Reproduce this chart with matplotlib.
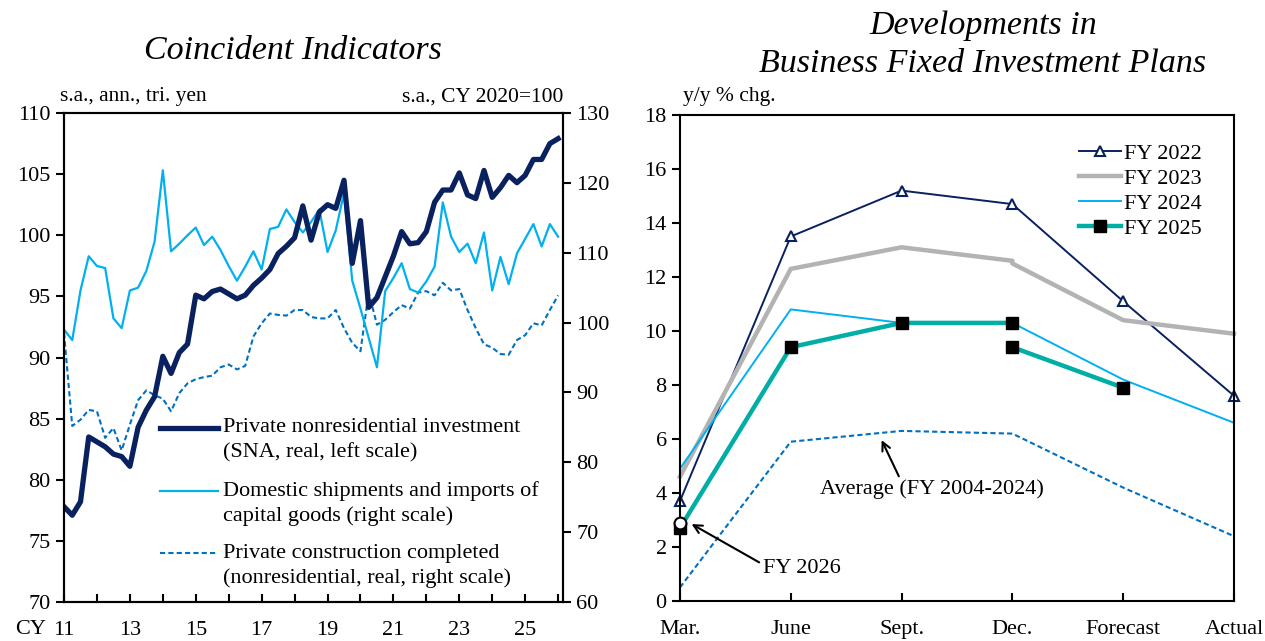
import matplotlib.pyplot as plt
from matplotlib.lines import Line2D

plt.rcParams['font.family'] = ['Liberation Serif', 'DejaVu Serif']

# --- Coincident indicators, quarterly, CY2011 Q1 onwards
nonres_inv = [77.8, 77.1, 78.2, 83.5, 83.1, 82.7, 82.1, 81.9, 81.1, 84.3,
              85.7, 86.8, 90.1, 88.7, 90.4, 91.1, 95.1, 94.8, 95.4, 95.6,
              95.2, 94.8, 95.1, 95.9, 96.5, 97.2, 98.5, 99.1, 99.8, 102.4,
              99.6, 101.9, 102.5, 102.2, 104.5, 97.7, 101.2, 94.1, 94.9, 96.6,
              98.3, 100.3, 99.3, 99.4, 100.3, 102.7, 103.7, 103.7, 105.1, 103.3,
              103.0, 105.3, 103.1, 103.9, 104.9, 104.3, 104.9, 106.2, 106.2, 107.5,
              107.9]
shipments = [99.0, 97.5, 104.6, 109.5, 108.1, 107.8, 100.6, 99.2, 104.6, 105.0,
             107.4, 111.6, 121.8, 110.2, 111.3, 112.5, 113.6, 111.1, 112.3, 110.4,
             108.1, 106.0, 108.0, 110.2, 107.6, 113.4, 113.7, 116.2, 114.4, 112.9,
             114.4, 116.2, 110.1, 113.2, 118.6, 106.0, 102.0, 97.8, 93.6, 104.5,
             106.4, 108.5, 104.8, 104.3, 105.9, 108.0, 117.2, 112.3, 110.1, 111.3,
             108.5, 112.9, 104.6, 109.4, 105.5, 109.9, 112.0, 114.1, 110.9, 114.1,
             112.3]
construction = [98.5, 85.2, 86.1, 87.5, 87.3, 83.5, 84.9, 81.7, 85.4, 88.9,
                90.3, 89.6, 89.1, 87.3, 89.9, 91.3, 91.9, 92.2, 92.4, 93.6,
                94.0, 93.3, 93.8, 98.0, 99.9, 101.3, 101.1, 101.0, 101.8, 101.8,
                100.8, 100.6, 100.6, 101.8, 99.2, 97.1, 95.9, 104.3, 99.7, 100.4,
                101.5, 102.5, 102.0, 104.3, 104.5, 103.9, 105.7, 104.6, 104.8, 101.8,
                99.2, 96.9, 96.4, 95.5, 95.4, 97.5, 98.2, 99.9, 99.6, 101.8,
                103.9]
year_labels = ['11', '13', '15', '17', '19', '21', '23', '25']

# --- Business fixed investment plans
survey_labels = ['Mar.', 'June', 'Sept.', 'Dec.', 'Forecast', 'Actual']
survey_pos = [0, 1, 2, 3, 3, 4, 5]   # Dec. twice (before / after sample revision)
fy2022 = [3.7, 13.5, 15.2, 14.7, 14.7, 11.1, 7.6]
fy2023 = [4.6, 12.3, 13.1, 12.6, 12.5, 10.4, 9.9]
fy2024 = [4.9, 10.8, 10.3, 10.3, 10.3, 8.2, 6.6]
fy2025 = [2.7, 9.4, 10.3, 10.3, 9.4, 7.9]
fy2026 = [2.9]
average = [0.5, 5.9, 6.3, 6.2, 6.2, 4.2, 2.4]

NAVY = '#0a2160'
LBLUE = '#00b0f0'
DBLUE = '#0070c0'
GRAY = '#b3b3b3'
TEAL = '#00aea6'
FS = 16

fig = plt.figure(figsize=(12.65, 6.41), dpi=100)

# ================= left panel
ax1 = fig.add_axes([0.0506, 0.0608, 0.3945, 0.7629])
ax1r = ax1.twinx()
q = list(range(len(nonres_inv)))
ax1r.plot(q, construction, color=DBLUE, lw=1.5, ls=(0, (2.5, 1.5)))
ax1r.plot(q, shipments, color=LBLUE, lw=1.6)
ax1.plot(q, nonres_inv, color=NAVY, lw=3.8)
ax1.set_zorder(ax1r.get_zorder() + 1)
ax1.patch.set_visible(False)

ax1.set_xlim(0, 60.6)
ax1.set_ylim(70, 110)
ax1r.set_ylim(60, 130)
ax1.set_yticks(range(70, 111, 5))
ax1r.set_yticks(range(60, 131, 10))
ticks = list(range(0, 61, 4))
ax1.set_xticks(ticks)
ax1.set_xticklabels([year_labels[i // 8] if i % 8 == 0 else '' for i in ticks])
ax1.tick_params(axis='x', direction='in', length=6, width=1.5, labelsize=FS, pad=14)
ax1.tick_params(axis='y', direction='out', length=6, width=1.5, labelsize=FS)
ax1r.tick_params(axis='y', direction='out', length=6, width=1.5, labelsize=FS)
for a in (ax1, ax1r):
    for s in a.spines.values():
        s.set_linewidth(1.5)

# legend drawn by hand so the line sits on the first text row
leg_rows = [
    (0.356, dict(color=NAVY, lw=3.8), ['Private nonresidential investment', '(SNA, real, left scale)']),
    (0.227, dict(color=LBLUE, lw=1.6), ['Domestic shipments and imports of', 'capital goods (right scale)']),
    (0.100, dict(color=DBLUE, lw=1.5, ls=(0, (2.5, 1.5))), ['Private construction completed', '(nonresidential, real, right scale)']),
]
for y, style, lines in leg_rows:
    ax1.add_line(Line2D([0.192, 0.309], [y, y], transform=ax1.transAxes, **style))
    for k, txt in enumerate(lines):
        ax1.text(0.319, y - k * 0.051, txt, transform=ax1.transAxes,
                 fontsize=FS, va='center', ha='left')

fig.text(293 / 1265, 1 - 51 / 641, 'Coincident Indicators', fontsize=24.5,
         style='italic', ha='center', va='center')
fig.text(60 / 1265, 1 - 97 / 641, 's.a., ann., tri. yen', fontsize=15.5, va='center')
fig.text(563 / 1265, 1 - 97 / 641, 's.a., CY 2020=100', fontsize=15.5, va='center', ha='right')
fig.text(31 / 1265, 1 - 629 / 641, 'CY', fontsize=FS, va='center', ha='center')

# ================= right panel
ax2 = fig.add_axes([0.5375, 0.0624, 0.4380, 0.7582])
ax2.plot(survey_pos, average, color=DBLUE, lw=1.5, ls=(0, (2.5, 1.5)), clip_on=False)
ax2.plot(survey_pos, fy2022, color=NAVY, lw=1.4, marker='^', markersize=7,
         markerfacecolor='white', markeredgecolor=NAVY, markeredgewidth=1.5,
         markevery=[0, 1, 2, 3, 5, 6], clip_on=False, label='FY 2022')
ax2.plot(survey_pos, fy2023, color=GRAY, lw=3.2, clip_on=False, label='FY 2023')
ax2.plot(survey_pos, fy2024, color=LBLUE, lw=1.4, clip_on=False, label='FY 2024')
ax2.plot(survey_pos[:4], fy2025[:4], color=TEAL, lw=3.2, marker='s', markersize=8,
         markerfacecolor='black', markeredgecolor='black', clip_on=False, label='FY 2025')
ax2.plot(survey_pos[4:6], fy2025[4:], color=TEAL, lw=3.2, marker='s', markersize=8,
         markerfacecolor='black', markeredgecolor='black', clip_on=False)
ax2.plot([0], fy2026, ls='none', marker='o', markersize=8.5, markerfacecolor='white',
         markeredgecolor='black', markeredgewidth=1.5, clip_on=False, zorder=5)

ax2.set_xlim(0, 5)
ax2.set_ylim(0, 18)
ax2.set_yticks(range(0, 19, 2))
ax2.set_xticks(range(6))
ax2.set_xticklabels(survey_labels)
ax2.tick_params(axis='x', direction='in', length=6, width=1.5, labelsize=FS, pad=14)
ax2.tick_params(axis='y', direction='out', length=6, width=1.5, labelsize=FS)
for s in ax2.spines.values():
    s.set_linewidth(1.5)

ax2.legend(loc='upper right', bbox_to_anchor=(0.942, 0.942), frameon=False,
           fontsize=FS, handlelength=1.9, handletextpad=0.15, labelspacing=0.2,
           borderaxespad=0, borderpad=0)

ax2.annotate('Average (FY 2004-2024)', xy=(1.82, 5.96), xytext=(1.26, 4.15),
             fontsize=FS, ha='left', va='center',
             arrowprops=dict(arrowstyle='->', color='black', lw=1.5,
                             mutation_scale=15, relpos=(0.36, 1.0), shrinkA=0, shrinkB=0))
ax2.annotate('FY 2026', xy=(0.105, 2.85), xytext=(0.75, 1.22),
             fontsize=FS, ha='left', va='center',
             arrowprops=dict(arrowstyle='->', color='black', lw=1.5,
                             mutation_scale=15, relpos=(-0.05, 0.8), shrinkA=0, shrinkB=0))

fig.text(983 / 1265, 1 - 45 / 641, 'Developments in\nBusiness Fixed Investment Plans',
         fontsize=24.5, style='italic', ha='center', va='center', linespacing=1.3)
fig.text(683 / 1265, 1 - 97 / 641, 'y/y % chg.', fontsize=15.5, va='center')

fig.savefig('out.png', dpi=100)
